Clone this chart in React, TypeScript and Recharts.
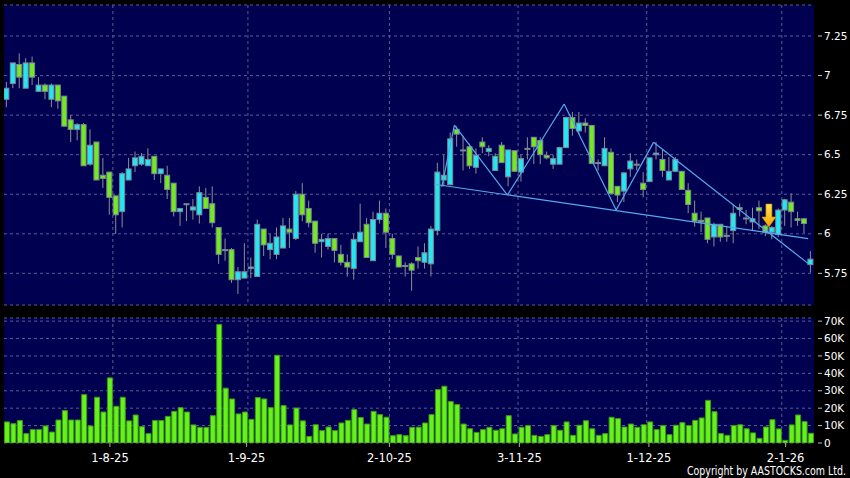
import React from 'react';
import { ComposedChart, Bar, XAxis, YAxis, CartesianGrid, ReferenceLine, ReferenceDot } from 'recharts';

// daily OHLC (HKD)
const opens = [
  6.85, 6.95, 7.07, 6.92, 7.08, 6.90, 6.94, 6.85, 6.94, 6.87,
  6.72, 6.66, 6.69, 6.44, 6.58, 6.37, 6.39, 6.24, 6.14, 6.34,
  6.43, 6.44, 6.43, 6.49, 6.38, 6.37, 6.32, 6.14, 6.19, 6.15,
  6.12, 6.23, 6.19, 6.04, 5.90, 5.90, 5.71, 5.72, 5.78, 5.73,
  6.03, 5.90, 5.87, 5.91, 6.03, 5.97, 6.25, 6.16, 6.08, 5.95,
  5.92, 5.97, 5.87, 5.82, 5.78, 5.95, 6.06, 5.83, 6.09, 6.13,
  5.97, 5.86, 5.80, 5.81, 5.85, 5.82, 5.81, 6.02, 6.34, 6.31,
  6.66, 6.53, 6.55, 6.42, 6.58, 6.52, 6.40, 6.56, 6.36, 6.525,
  6.39, 6.54, 6.61, 6.59, 6.495, 6.44, 6.44, 6.545, 6.735, 6.65,
  6.70, 6.685, 6.45, 6.43, 6.515, 6.30, 6.27, 6.41, 6.44, 6.32,
  6.33, 6.50, 6.47, 6.34, 6.395, 6.395, 6.275, 6.13, 6.085, 6.10,
  5.98, 6.06, 5.99, 6.02, 6.165, 6.10, 6.075, 6.165, 6.05, 6.01,
  5.995, 6.15, 6.20, 6.095, 6.095, 5.805,
];
const highs = [
  6.96, 7.08, 7.14, 7.11, 7.12, 6.99, 6.95, 6.95, 6.94, 6.87,
  6.75, 6.70, 6.70, 6.66, 6.58, 6.48, 6.39, 6.24, 6.39, 6.48,
  6.52, 6.51, 6.54, 6.49, 6.41, 6.43, 6.32, 6.16, 6.19, 6.22,
  6.30, 6.29, 6.30, 6.04, 5.97, 5.91, 5.79, 5.94, 5.85, 6.09,
  6.03, 6.00, 6.04, 6.10, 6.10, 6.27, 6.32, 6.21, 6.08, 6.00,
  6.00, 5.97, 5.93, 5.87, 6.00, 6.19, 6.10, 6.14, 6.21, 6.16,
  6.00, 5.86, 5.82, 5.82, 5.92, 5.94, 6.05, 6.45, 6.50, 6.64,
  6.68, 6.62, 6.57, 6.54, 6.61, 6.56, 6.51, 6.58, 6.53, 6.525,
  6.50, 6.61, 6.61, 6.61, 6.52, 6.50, 6.55, 6.74, 6.77, 6.77,
  6.73, 6.685, 6.47, 6.61, 6.54, 6.30, 6.39, 6.51, 6.47, 6.39,
  6.48, 6.58, 6.53, 6.485, 6.485, 6.395, 6.32, 6.21, 6.14, 6.10,
  6.07, 6.06, 6.05, 6.185, 6.19, 6.15, 6.165, 6.21, 6.06, 6.05,
  6.16, 6.22, 6.255, 6.14, 6.10, 5.89,
];
const lows = [
  6.80, 6.92, 6.92, 6.92, 6.94, 6.90, 6.85, 6.80, 6.79, 6.68,
  6.58, 6.59, 6.43, 6.43, 6.34, 6.29, 6.12, 6.00, 6.04, 6.34,
  6.39, 6.43, 6.43, 6.34, 6.32, 6.22, 6.11, 6.05, 6.08, 6.09,
  6.065, 6.16, 6.04, 5.81, 5.83, 5.69, 5.62, 5.72, 5.72, 5.73,
  5.86, 5.84, 5.84, 5.91, 5.91, 5.96, 6.08, 6.04, 5.88, 5.85,
  5.90, 5.82, 5.80, 5.73, 5.71, 5.95, 5.85, 5.83, 6.065, 5.91,
  5.84, 5.79, 5.73, 5.64, 5.78, 5.78, 5.73, 5.99, 6.30, 6.31,
  6.55, 6.40, 6.41, 6.38, 6.51, 6.49, 6.40, 6.45, 6.30, 6.39,
  6.33, 6.47, 6.44, 6.44, 6.47, 6.41, 6.44, 6.545, 6.62, 6.63,
  6.64, 6.445, 6.40, 6.43, 6.25, 6.20, 6.20, 6.36, 6.40, 6.23,
  6.33, 6.47, 6.36, 6.34, 6.395, 6.28, 6.13, 6.045, 6.01, 5.94,
  5.92, 5.95, 5.95, 5.94, 6.11, 6.06, 6.02, 6.03, 5.985, 5.965,
  5.98, 6.05, 6.04, 6.05, 6.005, 5.755,
];
const closes = [
  6.92, 7.08, 6.99, 7.08, 6.99, 6.94, 6.90, 6.94, 6.84, 6.68,
  6.66, 6.69, 6.43, 6.56, 6.34, 6.35, 6.23, 6.12, 6.38, 6.41,
  6.48, 6.49, 6.47, 6.38, 6.41, 6.28, 6.14, 6.16, 6.19, 6.17,
  6.26, 6.16, 6.07, 5.87, 5.90, 5.71, 5.76, 5.76, 5.79, 6.06,
  5.93, 5.94, 5.98, 6.05, 6.01, 6.25, 6.12, 6.07, 5.94, 5.965,
  5.97, 5.895, 5.82, 5.79, 5.965, 6.01, 5.85, 6.09, 6.13, 6.01,
  5.87, 5.79, 5.80, 5.77, 5.83, 5.88, 6.03, 6.39, 6.37, 6.60,
  6.63, 6.53, 6.43, 6.495, 6.55, 6.54, 6.49, 6.45, 6.53, 6.395,
  6.475, 6.54, 6.55, 6.50, 6.48, 6.475, 6.545, 6.735, 6.665, 6.70,
  6.685, 6.445, 6.45, 6.54, 6.255, 6.245, 6.385, 6.46, 6.44, 6.28,
  6.48, 6.51, 6.40, 6.395, 6.47, 6.28, 6.185, 6.08, 6.075, 5.965,
  6.06, 5.98, 5.99, 6.13, 6.155, 6.10, 6.095, 6.145, 6.01, 6.04,
  6.15, 6.215, 6.14, 6.085, 6.065, 5.84,
];
const volumes = [
  12100, 11100, 12900, 5400, 7700, 7700, 9800, 6300, 13200, 18600,
  13200, 13200, 27800, 9800, 26300, 17800, 37400, 21100, 26300, 12700,
  16100, 9400, 5400, 12900, 12900, 15300, 18200, 20300, 17800, 10400,
  9000, 9000, 15700, 68100, 31500, 25300, 16700, 17800, 13600, 26100,
  25300, 20300, 50400, 21500, 10400, 20100, 12700, 3800, 10500, 7100,
  9200, 7100, 11500, 13000, 19200, 14600, 10900, 18200, 16300, 14800,
  4200, 4800, 4200, 9000, 9100, 11500, 16300, 30700, 32600, 23800,
  22100, 10900, 8200, 6100, 7700, 9000, 7300, 8200, 15700, 5200,
  9000, 10000, 4400, 3800, 4800, 10000, 7300, 12100, 4400, 10200,
  12800, 8200, 4400, 5400, 14800, 14000, 9200, 10900, 9000, 10500,
  12100, 7700, 10000, 4800, 10200, 11700, 10000, 13000, 14400, 24500,
  18000, 5400, 4400, 10000, 10500, 8200, 5800, 2700, 9200, 13400,
  8100, 1500, 10400, 16100, 12300, 5600,
];

// x axis: trading-day index
const dateTicks = [16.05, 37.3, 59.5, 79.7, 99.85, 121.1];
const dateLabels = ['1-8-25', '1-9-25', '2-10-25', '3-11-25', '1-12-25', '2-1-26'];
const monthGrid = [16.5, 37.5, 59.5, 79.5, 99.5, 120.5];
const priceTicks = [5.75, 6, 6.25, 6.5, 6.75, 7, 7.25];
const volumeTicks = [0, 10000, 20000, 30000, 40000, 50000, 60000, 70000];

// drawn trendlines (index, price)
const supportLine = [{ i: 66.5, p: 6.313 }, { i: 124.6, p: 5.97 }];
const zigzag = [
  { i: 67.65, p: 6.297 },
  { i: 69.6, p: 6.687 },
  { i: 77.85, p: 6.245 },
  { i: 86.67, p: 6.82 },
  { i: 94.76, p: 6.15 },
  { i: 100.56, p: 6.578 },
  { i: 124.57, p: 5.813 },
];
const signalArrow = { i: 118.5, p: 6.043 };

const NAVY = '#000050';
const GRID = '#5c5c94';
const CYAN = '#22e6f2';
const GREEN = '#72ea1e';
const DOJI = '#8c8c8c';
const LIME = '#66f01c';
const LINE = '#55aaee';
const FONT = 'DejaVu Sans, Verdana, sans-serif';

const X_DOMAIN = [-0.42, 125.51];

const rows = opens.map((o, i) => ({
  i,
  o,
  h: highs[i],
  l: lows[i],
  c: closes[i],
  v: volumes[i],
}));

const Candle = (props: any) => {
  const { x, y, width, height, payload } = props;
  const { o, h, l, c } = payload;
  const cx = x + width / 2;
  const k = height / (h - l);
  const yO = y + (h - o) * k;
  const yC = y + (h - c) * k;
  const top = Math.min(yO, yC);
  const bh = Math.max(Math.abs(yO - yC), 1);
  const fill = c > o ? CYAN : c < o ? GREEN : DOJI;
  return (
    <g>
      <line x1={cx} x2={cx} y1={y} y2={y + height} stroke="#8e8e8e" strokeWidth={1} />
      <rect x={cx - 2.5} y={top} width={5} height={bh} fill={fill} stroke="#7a8894" strokeWidth={1} />
    </g>
  );
};

const ArrowMark = ({ cx, cy }: any) => (
  <g>
    <defs>
      <linearGradient id="arrowFill" x1="0" y1="0" x2="0" y2="1">
        <stop offset="0" stopColor="#ffe94f" />
        <stop offset="1" stopColor="#f4a000" />
      </linearGradient>
    </defs>
    <path
      d={`M${cx - 3},${cy - 23} h6 v13 h4 l-7,10 l-7,-10 h4 z`}
      fill="url(#arrowFill)"
      stroke="#c98400"
      strokeWidth={0.6}
    />
  </g>
);

const RightTick = ({ x, y, payload, fmt }: any) => (
  <g>
    <line x1={x + 4} x2={x + 8} y1={y} y2={y} stroke="#bdbdbd" />
    <text x={x + 10} y={y} dy="0.35em" fill="#ffffff" fontSize={10.5} fontFamily={FONT}>
      {fmt(payload.value)}
    </text>
  </g>
);

const fmtPrice = (v: number) => String(v);
const fmtVol = (v: number) => (v === 0 ? '0' : `${v / 1000}K`);
const fmtDate = (v: number) => dateLabels[dateTicks.indexOf(v)] ?? '';

export default function App() {
  return (
    <div style={{ position: 'absolute', left: 0, top: 0, width: 850, height: 478, background: '#000', overflow: 'hidden' }}>
      <div style={{ position: 'absolute', left: 0, top: 0 }}>
        <ComposedChart width={850} height={310} data={rows} margin={{ top: 5, right: 0, bottom: 5, left: 4 }}>
          <CartesianGrid stroke={GRID} strokeDasharray="3 3" fill={NAVY} verticalValues={monthGrid} />
          <XAxis dataKey="i" type="number" domain={X_DOMAIN} allowDataOverflow ticks={dateTicks} interval={0} hide />
          <YAxis
            orientation="right"
            type="number"
            domain={[5.55, 7.446]}
            allowDataOverflow
            ticks={priceTicks}
            interval={0}
            width={36}
            axisLine={false}
            tickLine={false}
            tickSize={0}
            tickMargin={0}
            tick={(p: any) => <RightTick {...p} fmt={fmtPrice} />}
          />
          <Bar dataKey={(d: any) => [d.l, d.h]} barSize={7} shape={Candle} isAnimationActive={false} />
          <ReferenceLine
            segment={[{ x: supportLine[0].i, y: supportLine[0].p }, { x: supportLine[1].i, y: supportLine[1].p }]}
            stroke={LINE}
            strokeWidth={1.2}
          />
          {zigzag.slice(1).map((pt, k) => (
            <ReferenceLine
              key={k}
              segment={[{ x: zigzag[k].i, y: zigzag[k].p }, { x: pt.i, y: pt.p }]}
              stroke={LINE}
              strokeWidth={1.2}
            />
          ))}
          <ReferenceDot x={signalArrow.i} y={signalArrow.p} r={0} shape={(p: any) => <ArrowMark cx={p.cx} cy={p.cy} />} />
        </ComposedChart>
      </div>
      <div style={{ position: 'absolute', left: 0, top: 305 }}>
        <ComposedChart width={850} height={173} data={rows} margin={{ top: 13, right: 0, bottom: 5, left: 4 }}>
          <CartesianGrid stroke={GRID} strokeDasharray="3 3" fill={NAVY} verticalValues={monthGrid} />
          <XAxis
            dataKey="i"
            type="number"
            domain={X_DOMAIN}
            allowDataOverflow
            ticks={dateTicks}
            interval={0}
            tickFormatter={fmtDate}
            height={30}
            axisLine={false}
            tickSize={4}
            tickMargin={7}
            tickLine={{ stroke: '#b0b0b0' }}
            tick={{ fill: '#ffffff', fontSize: 11.5, fontFamily: FONT }}
          />
          <YAxis
            orientation="right"
            type="number"
            domain={[0, 71800]}
            allowDataOverflow
            ticks={volumeTicks}
            interval={0}
            width={36}
            axisLine={false}
            tickLine={false}
            tickSize={0}
            tickMargin={0}
            tick={(p: any) => <RightTick {...p} fmt={fmtVol} />}
          />
          <Bar dataKey="v" barSize={5} fill={LIME} stroke="#3a9a12" strokeWidth={1} isAnimationActive={false} />
        </ComposedChart>
      </div>
      <svg width={850} height={478} style={{ position: 'absolute', left: 0, top: 0, pointerEvents: 'none' }}>
        <text
          x={846}
          y={474.5}
          textAnchor="end"
          fill="#ffffff"
          fontSize={11.5}
          fontFamily={FONT}
          textLength={159}
          lengthAdjust="spacingAndGlyphs"
        >
          Copyright by AASTOCKS.com Ltd.
        </text>
      </svg>
    </div>
  );
}
